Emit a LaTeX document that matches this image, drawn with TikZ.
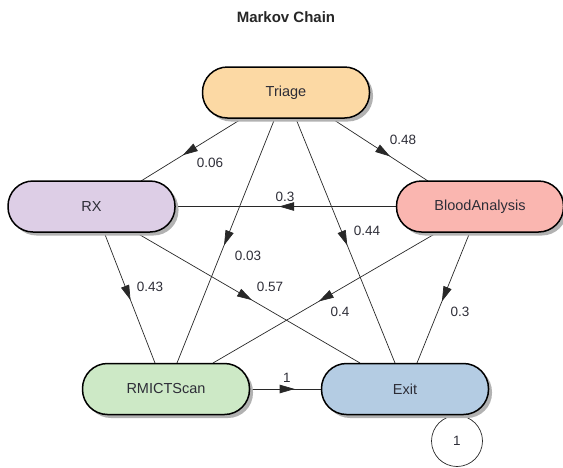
\documentclass[tikz,border=0pt]{standalone}
\usepackage{fontspec}
\setmainfont{Liberation Sans}
\usetikzlibrary{calc,arrows.meta,decorations.markings,shadows}
\pgfdeclarelayer{background}
\pgfsetlayers{background,main}
\definecolor{triagec}{RGB}{252,217,164}
\definecolor{rxc}{RGB}{221,206,230}
\definecolor{bac}{RGB}{250,182,176}
\definecolor{rmc}{RGB}{205,233,198}
\definecolor{exc}{RGB}{180,204,227}
\definecolor{txt}{RGB}{45,45,55}
\definecolor{edgec}{RGB}{40,40,40}
\tikzset{
  state/.style={draw=black, line width=1.5pt, rounded corners=25pt,
    minimum width=167pt, minimum height=51pt, inner sep=0pt,
    font=\fontsize{14.5}{17}\selectfont, text=txt,
    drop shadow={shadow xshift=3.5pt, shadow yshift=-3.5pt, fill=black!30, opacity=1}},
  lbl/.style={font=\fontsize{13.5}{16}\selectfont, text=txt, inner sep=0pt},
  conn/.style={draw=edgec, line width=0.7pt},
  arr/.style={conn, decoration={markings, mark=at position #1 with {\arrow{Triangle[length=15pt,width=8.5pt]}}}, postaction={decorate}}
}
\begin{document}
\begin{tikzpicture}[x=1pt,y=-1pt]
\useasboundingbox (0,0) rectangle (563,467);
\node[font=\bfseries\fontsize{15}{17}\selectfont, text=black!85] (title) at (286,17) {Markov Chain};

\node[state, fill=triagec] (T) at (286,92.5) {Triage};
\node[state, fill=rxc] (RX) at (91.5,206.5) {RX};
\node[state, fill=bac] (BA) at (480,206.5) {BloodAnalysis};
\node[state, fill=rmc] (RM) at (166,389) {RMICTScan};
\node[state, fill=exc] (EX) at (405,389) {Exit};

\begin{pgfonlayer}{background}
\draw[arr=0.59] ($(T)+(-43,25.5)$) -- ($(RX)+(49.5,-25.5)$);
\draw[arr=0.61] ($(T)+(45,25.5)$) -- ($(BA)+(-52,-25.5)$);
\draw[arr=0.52] ($(T)+(-11,25.5)$) -- ($(RM)+(11,-26)$);
\draw[arr=0.52] ($(T)+(9.6,25.5)$) -- ($(EX)+(-10,-26)$);
\draw[arr=0.53] (BA.west) -- (RX.east);
\draw[arr=0.52] ($(RX)+(12.5,25.5)$) -- ($(RM)+(-11,-26)$);
\draw[arr=0.52] ($(RX)+(43.5,25.5)$) -- ($(EX)+(-45,-26)$);
\draw[arr=0.53] ($(BA)+(-42,25.5)$) -- ($(RM)+(47,-26)$);
\draw[arr=0.53] ($(BA)+(-10,25.5)$) -- ($(EX)+(12,-26)$);
\draw[arr=0.63] (RM.east) -- (EX.west);
\draw[conn] ($(EX)+(52,52)$) coordinate (loopc) circle[radius=25.5pt];
\end{pgfonlayer}

\node[lbl] (l1) at (210,163) {0.06};
\node[lbl] (l2) at (403,140) {0.48};
\node[lbl] (l3) at (248,256) {0.03};
\node[lbl] (l4) at (367,231) {0.44};
\node[lbl] (l5) at (285,197) {0.3};
\node[lbl] (l6) at (150,287) {0.43};
\node[lbl] (l7) at (270,287) {0.57};
\node[lbl] (l8) at (340,312) {0.4};
\node[lbl] (l9) at (460,312) {0.3};
\node[lbl] (l10) at (287,378) {1};
\node[lbl] (l11) at (loopc) {1};
\end{tikzpicture}
\end{document}
